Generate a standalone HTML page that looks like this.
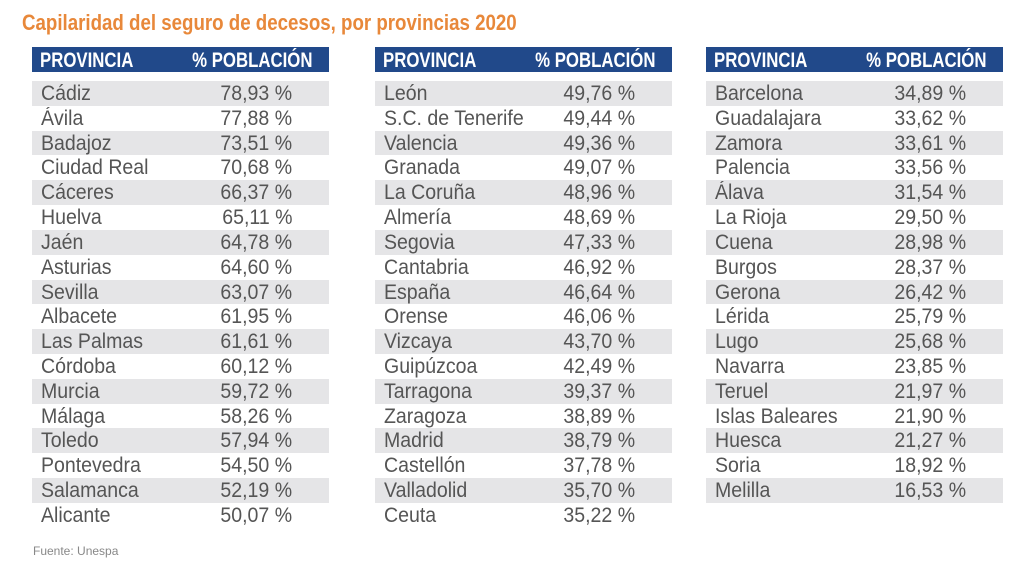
<!DOCTYPE html>
<html><head><meta charset="utf-8"><style>
body{margin:0;width:1024px;height:572px;background:#fff;position:relative;overflow:hidden;font-family:"Liberation Sans",sans-serif;}
.t{position:absolute;color:#e8883a;font-weight:bold;font-size:22px;left:22px;top:10px;white-space:nowrap;transform:scaleX(0.85);transform-origin:left;}
.tb{position:absolute;top:47px;width:297px;}
.h{height:25px;background:#21498a;color:#fff;font-weight:bold;font-size:21px;position:relative;line-height:28px;}
.h span,.r span{position:absolute;white-space:nowrap}
.h .a{transform:scaleX(0.8);transform-origin:left}
.h .b{transform:scaleX(0.8);transform-origin:right}
.r{position:absolute;left:0;width:100%;height:24.8px;line-height:26px;font-size:21px;color:#555;}
.r .a{transform:scaleX(0.93);transform-origin:left}
.r .b{transform:scaleX(0.93);transform-origin:right}
.g{background:#e5e5e7;}
.f{position:absolute;left:33px;top:544px;font-size:12px;color:#888;}
</style></head><body>
<div class="t">Capilaridad del seguro de decesos, por provincias 2020</div>
<div id="c"></div>
<div class="f">Fuente: Unespa</div>
<script>
const cols=[[32,[["Cádiz","78,93"],["Ávila","77,88"],["Badajoz","73,51"],["Ciudad Real","70,68"],["Cáceres","66,37"],["Huelva","65,11"],["Jaén","64,78"],["Asturias","64,60"],["Sevilla","63,07"],["Albacete","61,95"],["Las Palmas","61,61"],["Córdoba","60,12"],["Murcia","59,72"],["Málaga","58,26"],["Toledo","57,94"],["Pontevedra","54,50"],["Salamanca","52,19"],["Alicante","50,07"]]],
[375,[["León","49,76"],["S.C. de Tenerife","49,44"],["Valencia","49,36"],["Granada","49,07"],["La Coruña","48,96"],["Almería","48,69"],["Segovia","47,33"],["Cantabria","46,92"],["España","46,64"],["Orense","46,06"],["Vizcaya","43,70"],["Guipúzcoa","42,49"],["Tarragona","39,37"],["Zaragoza","38,89"],["Madrid","38,79"],["Castellón","37,78"],["Valladolid","35,70"],["Ceuta","35,22"]]],
[706,[["Barcelona","34,89"],["Guadalajara","33,62"],["Zamora","33,61"],["Palencia","33,56"],["Álava","31,54"],["La Rioja","29,50"],["Cuena","28,98"],["Burgos","28,37"],["Gerona","26,42"],["Lérida","25,79"],["Lugo","25,68"],["Navarra","23,85"],["Teruel","21,97"],["Islas Baleares","21,90"],["Huesca","21,27"],["Soria","18,92"],["Melilla","16,53"]]]];
let h="";
for(const [x,rows] of cols){
 h+=`<div class="tb" style="left:${x}px"><div class="h"><span class="a" style="left:8px">PROVINCIA</span><span class="b" style="right:16px">% POBLACIÓN</span></div>`;
 rows.forEach((r,i)=>{h+=`<div class="r${i%2==0?' g':''}" style="top:${34+i*24.82}px"><span class="a" style="left:9px">${r[0]}</span><span class="b" style="right:37px">${r[1]} %</span></div>`;});
 h+=`</div>`;
}
document.getElementById("c").innerHTML=h;
</script>
</body></html>
